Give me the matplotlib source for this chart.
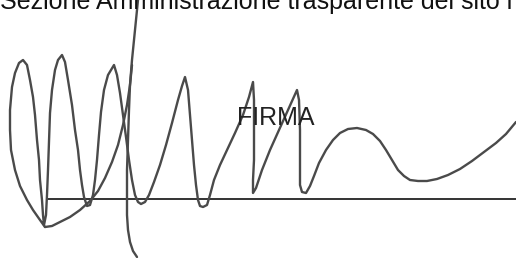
import matplotlib.pyplot as plt

# header text (cut at top edge) and label
header = 'Sezione Amministrazione trasparente del sito i'
label = 'FIRMA'

# signature strokes, image pixel coords (x right, y down)
main_x = [45, 40, 33, 27, 20, 15, 11, 10, 10, 12, 15, 19, 23, 27, 30, 33, 35, 37, 39, 40, 42, 43, 44,
          46, 47, 48, 49, 50, 52, 55, 58, 62, 65, 68, 72, 75, 78, 80, 82, 84, 87, 90, 93,
          95, 97, 99, 101, 104, 108, 114, 117, 120, 123, 126, 129, 132, 135, 138, 141, 145,
          149, 154, 160, 166, 172, 178, 182, 185, 188, 190, 192, 194, 196, 198, 200, 203,
          207, 210, 214, 220, 227, 235, 243, 249, 253, 254, 254, 254, 253, 253,
          256, 262, 270, 279, 288, 297, 299, 300, 300, 300, 302, 306, 310,
          314, 319, 326, 333, 340, 348, 357, 366, 373, 380, 386, 392, 398, 404, 410,
          418, 427, 437, 448, 460, 472, 484, 496, 506, 516]
main_y = [227, 220, 210, 200, 186, 170, 150, 130, 110, 87, 73, 63, 60, 65, 80, 97, 115, 140, 160, 180, 200, 215, 225,
          215, 195, 170, 140, 113, 90, 70, 60, 55, 62, 80, 105, 130, 150, 170, 185, 197, 206, 205, 195,
          180, 160, 135, 112, 90, 75, 65, 75, 93, 115, 137, 160, 180, 195, 202, 204, 202,
          195, 182, 165, 145, 123, 100, 86, 77, 90, 115, 140, 165, 185, 200, 206, 207,
          205, 195, 180, 165, 150, 133, 115, 97, 82, 100, 130, 160, 180, 193,
          188, 170, 150, 130, 110, 90, 100, 130, 160, 185, 192, 193, 186,
          176, 163, 150, 140, 133, 129, 128, 130, 134, 141, 150, 160, 170, 176, 180,
          181, 181, 179, 175, 169, 161, 152, 143, 134, 122]

cross_x = [45, 52, 60, 70, 80, 90, 98, 105, 112, 118, 123, 127, 130, 132]
cross_y = [227, 226, 222, 217, 210, 201, 191, 178, 162, 145, 125, 105, 85, 65]

vert_x = [138, 136, 134, 132, 130, 129, 128, 127, 127, 127, 128, 130, 133, 137]
vert_y = [0, 20, 40, 60, 85, 110, 140, 170, 195, 215, 230, 242, 251, 257]

base_x = [48, 516]
base_y = [199, 199]

fig = plt.figure(figsize=(5.16, 2.58), dpi=100)
ax = fig.add_axes([0, 0, 1, 1])
ax.set_xlim(0, 516)
ax.set_ylim(258, 0)
ax.axis('off')

ax.text(0, 9, header, fontsize=18, family='Liberation Sans', color='#111111',
        va='baseline', ha='left')
ax.plot(base_x, base_y, color='#111111', lw=1.2)
ax.text(237, 125, label, fontsize=18, family='Liberation Sans', color='#222222',
        va='baseline', ha='left')

for xs, ys in [(main_x, main_y), (cross_x, cross_y), (vert_x, vert_y)]:
    ax.plot(xs, ys, color='#4a4a4a', lw=1.7, solid_joinstyle='round',
            solid_capstyle='round')

fig.savefig('out.png', dpi=100)
